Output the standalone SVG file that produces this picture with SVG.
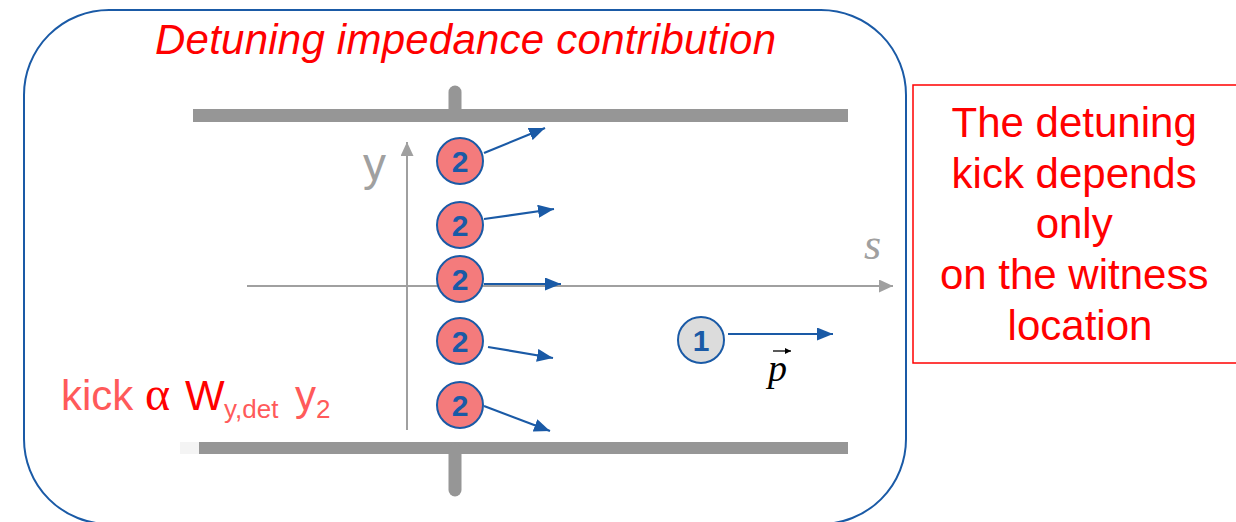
<svg xmlns="http://www.w3.org/2000/svg" width="1236" height="522" viewBox="0 0 1236 522">
<style>
.plate{fill:#969696}
.stub{stroke:#969696;stroke-width:13;stroke-linecap:round;fill:none}
.axis{stroke:#a0a0a0;stroke-width:2;fill:none}
.kick{stroke:#1a5aa6;stroke-width:2.2;fill:none}
.p2{fill:#f47b7c;stroke:#1a5aa6;stroke-width:2}
.p1{fill:#dcdcdc;stroke:#1a5aa6;stroke-width:2}
.num{font-family:"Liberation Sans",Arial,sans-serif;font-weight:bold;font-size:30px;fill:#1a5aa6;text-anchor:middle}
.sans{font-family:"Liberation Sans",Arial,sans-serif}
</style>
<defs>
<marker id="ab" markerUnits="userSpaceOnUse" markerWidth="17" markerHeight="13" refX="16" refY="6.5" orient="auto"><path d="M0,0 L16,6.5 L0,13 z" fill="#1a5aa6"/></marker>
<marker id="ag" markerUnits="userSpaceOnUse" markerWidth="15" markerHeight="13" refX="14" refY="6.5" orient="auto"><path d="M0,0 L14,6.5 L0,13 z" fill="#a0a0a0"/></marker>
<marker id="ap" markerUnits="userSpaceOnUse" markerWidth="7" markerHeight="7" refX="6" refY="3" orient="auto"><path d="M0,0 L6,3 L0,6 z" fill="#000"/></marker>
</defs>
<g id="frame">
<rect x="24" y="10" width="882" height="514" rx="85" ry="85" fill="none" stroke="#1a5aa6" stroke-width="2"/>
</g>
<g id="title">
<text x="155" y="54" class="sans" font-style="italic" font-size="42" fill="#ff0000" textLength="621">Detuning impedance contribution</text>
</g>
<g id="pipe">
<line class="stub" x1="455" y1="92" x2="455" y2="112"/>
<rect class="plate" x="193" y="109" width="655" height="13"/>
<rect x="180" y="442" width="19" height="12" fill="#f4f4f4"/>
<rect class="plate" x="199" y="442" width="649" height="12"/>
<line class="stub" x1="455" y1="450" x2="455" y2="490"/>
</g>
<g id="axes">
<line class="axis" x1="407" y1="430" x2="407" y2="142" marker-end="url(#ag)"/>
<line class="axis" x1="247" y1="286" x2="893" y2="286" marker-end="url(#ag)"/>
<text x="363" y="180" class="sans" font-size="46" fill="#a0a0a0">y</text>
<text x="864" y="259" font-family="Liberation Serif,serif" font-style="italic" font-size="44" fill="#a0a0a0">s</text>
</g>
<g id="connectors">
<line class="kick" x1="484" y1="153" x2="545" y2="128" marker-end="url(#ab)"/>
<line class="kick" x1="484" y1="219" x2="554" y2="209" marker-end="url(#ab)"/>
<line class="kick" x1="484" y1="284" x2="561" y2="284" marker-end="url(#ab)"/>
<line class="kick" x1="488" y1="347" x2="553" y2="358" marker-end="url(#ab)"/>
<line class="kick" x1="484" y1="406" x2="550" y2="431" marker-end="url(#ab)"/>
<line class="kick" x1="728" y1="334" x2="833" y2="334" marker-end="url(#ab)"/>
</g>
<g id="particle2-a"><circle class="p2" cx="460" cy="161" r="23"/><text class="num" x="460" y="172">2</text></g>
<g id="particle2-b"><circle class="p2" cx="460" cy="225" r="23"/><text class="num" x="460" y="236">2</text></g>
<g id="particle2-c"><circle class="p2" cx="460" cy="279" r="23"/><text class="num" x="460" y="290">2</text></g>
<g id="particle2-d"><circle class="p2" cx="460" cy="341" r="23"/><text class="num" x="460" y="352">2</text></g>
<g id="particle2-e"><circle class="p2" cx="460" cy="405" r="23"/><text class="num" x="460" y="416">2</text></g>
<g id="particle1"><circle class="p1" cx="701" cy="340" r="23"/><text class="num" x="701" y="351">1</text></g>
<g id="momentum">
<text x="768" y="381" font-family="Liberation Serif,serif" font-style="italic" font-size="38" fill="#000">p</text>
<line x1="773" y1="351" x2="791" y2="351" stroke="#000" stroke-width="1.3" marker-end="url(#ap)"/>
</g>
<g id="kick-label">
<text y="410" class="sans" font-size="42"><tspan x="61" fill="#ff5a5a">kick</tspan><tspan x="145" font-family="Liberation Serif,serif" font-size="48" fill="#ff0000">α</tspan><tspan x="185" fill="#ff0000">W</tspan><tspan x="224" y="418" font-size="26" fill="#ff5a5a">y,det</tspan><tspan x="295" y="410" fill="#ff5a5a">y</tspan><tspan x="316" y="418" font-size="26" fill="#ff5a5a">2</tspan></text>
</g>
<g id="note">
<rect x="913" y="85" width="330" height="278" fill="none" stroke="#ff0000" stroke-width="1.5"/>
<text class="sans" font-size="42" fill="#ff0000" text-anchor="middle">
<tspan x="1080" y="137">The detuning</tspan>
<tspan x="1080" y="188">kick depends</tspan>
<tspan x="1080" y="238">only</tspan>
<tspan x="1080" y="289">on the witness</tspan>
<tspan x="1080" y="340">location</tspan>
</text>
</g>
</svg>
